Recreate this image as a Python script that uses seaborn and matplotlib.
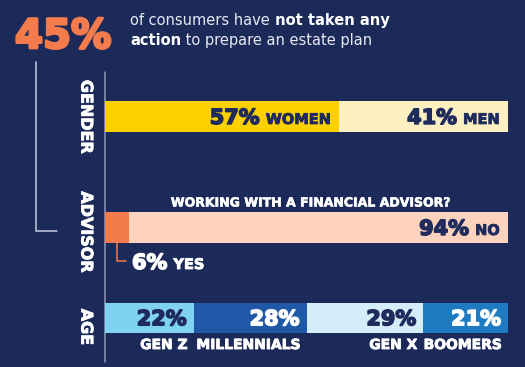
import matplotlib
matplotlib.use("Agg")
import matplotlib.pyplot as plt
import matplotlib.transforms as mtransforms
import matplotlib.patheffects as pe
from matplotlib.lines import Line2D
import seaborn as sns
import numpy as np

# === Data ===
headline_pct = "45%"
gender_labels = ["WOMEN", "MEN"]
gender_values = [57, 41]
advisor_labels = ["YES", "NO"]
advisor_values = [6, 94]
age_labels = ["GEN Z", "MILLENNIALS", "GEN X", "BOOMERS"]
age_values = [22, 28, 29, 21]

# === Style ===
bg = "#1c2a5a"
navy = "#1e2b5c"
light = "#e6e9f2"
orange = "#f47c4c"
gender_colors = ["#fdd100", "#fff0c2"]
advisor_colors = [orange, "#fdd3bd"]
age_colors = ["#7fd2f0", "#1f58a6", "#d3eef9", "#1f7bc1"]
age_text = [navy, "white", navy, "white"]

sns.set_theme(style="white")
plt.rcParams["font.family"] = ["DejaVu Sans"]

W, H = 525, 367
fig = plt.figure(figsize=(W / 100, H / 100), dpi=100, facecolor=bg)
# pixel coords measured from the top-left corner
px = mtransforms.Affine2D().scale(1 / W, -1 / H).translate(0, 1) + fig.transFigure


def heavy(color, lw=1.0):
    # fake a black weight by stroking the bold glyphs
    return [pe.withStroke(linewidth=lw, foreground=color)]


def px_axes(x0, y0, x1, y1):
    ax = fig.add_axes([x0 / W, 1 - y1 / H, (x1 - x0) / W, (y1 - y0) / H])
    ax.set_facecolor("none")
    return ax


def stacked_bar(ax, values, colors):
    cum = np.cumsum(values)
    # draw cumulative totals back to front so each segment shows
    for i in reversed(range(len(values))):
        sns.barplot(x=[cum[i]], y=["row"], orient="h", color=colors[i],
                    width=1, saturation=1, linewidth=0, ax=ax)
    ax.set_xlim(0, cum[-1])
    ax.set_ylim(0.5, -0.5)
    ax.axis("off")
    return cum


def seg_label(ax, x_end, pct, word, color, y_base=0.24, pad=-8):
    trans = mtransforms.offset_copy(ax.transData, fig=fig, x=pad, y=0, units="dots")
    w = ax.text(x_end, y_base, word, transform=trans, ha="right", va="baseline",
                color=color, fontsize=10.5, fontweight="bold",
                path_effects=heavy(color, 0.6))
    if pct:
        ax.annotate(pct, xy=(0, y_base), xycoords=(w, trans), xytext=(-6, 0),
                    textcoords="offset pixels", ha="right", va="baseline",
                    color=color, fontsize=15, fontweight="bold",
                    path_effects=heavy(color, 1.1))
    return w


# === Headline ===
fig.text(15, 48, headline_pct, transform=px, color=orange, fontsize=29,
         fontweight="bold", va="baseline", path_effects=heavy(orange, 2))
t1 = fig.text(130, 25, "of consumers have", transform=px, color=light,
              fontsize=10.5, va="baseline")
fig.add_artist(plt.Annotation(" not taken any", xy=(1, 0), xycoords=t1,
                              color="white", fontsize=10.5, fontweight="bold",
                              va="bottom", ha="left"))
t2 = fig.text(130, 45, "action", transform=px, color="white", fontsize=10.5,
              fontweight="bold", va="baseline")
fig.add_artist(plt.Annotation(" to prepare an estate plan", xy=(1, 0), xycoords=t2,
                              color=light, fontsize=10.5, va="bottom", ha="left"))

# === Guide lines ===
fig.add_artist(Line2D([36, 36, 57], [62, 231, 231], transform=px,
                      color="#c5cbe0", lw=1.1))
fig.add_artist(Line2D([105, 105], [72, 362], transform=px,
                      color="#8f98b6", lw=1.1, zorder=0))

# === Row labels ===
for label, yc in [("GENDER", 117), ("ADVISOR", 232), ("AGE", 327)]:
    fig.text(86, yc, label, transform=px, rotation=270, color="white",
             fontsize=11.5, fontweight="bold", ha="center", va="center",
             path_effects=heavy("white", 0.6))

# === Gender ===
ax_g = px_axes(105, 101, 508, 132)
cum_g = stacked_bar(ax_g, gender_values, gender_colors)
for i, lab in enumerate(gender_labels):
    seg_label(ax_g, cum_g[i], f"{gender_values[i]}%", lab, navy)

# === Advisor ===
ax_a = px_axes(105, 212, 508, 243)
cum_a = stacked_bar(ax_a, advisor_values, advisor_colors)
seg_label(ax_a, cum_a[1], f"{advisor_values[1]}%", advisor_labels[1], navy)
fig.text(310, 203, "WORKING WITH A FINANCIAL ADVISOR?", transform=px,
         color="white", fontsize=9, fontweight="bold", ha="center", va="center",
         path_effects=heavy("white", 0.4))
fig.add_artist(Line2D([117, 117, 126], [243, 261, 261], transform=px,
                      color=orange, lw=1.1))
t6 = fig.text(132, 269, f"{advisor_values[0]}%", transform=px, color="white",
              fontsize=15, fontweight="bold", va="baseline",
              path_effects=heavy("white", 1.1))
fig.add_artist(plt.Annotation(advisor_labels[0], xy=(1, 0), xycoords=(t6, px),
                              xytext=(6, 269), textcoords=("offset pixels", px),
                              color="white", fontsize=10.5, fontweight="bold",
                              va="baseline", ha="left",
                              path_effects=heavy("white", 0.6)))

# === Age ===
ax_y = px_axes(105, 303, 508, 333)
cum_y = stacked_bar(ax_y, age_values, age_colors)
for i, lab in enumerate(age_labels):
    t = seg_label(ax_y, cum_y[i], "", f"{age_values[i]}%", age_text[i], pad=-7)
    t.set_fontsize(15)
    t.set_path_effects(heavy(age_text[i], 1.1))
    ax_y.text(cum_y[i], 0.9, lab,
              transform=mtransforms.offset_copy(ax_y.transData, fig=fig, x=-6, y=0, units="dots"),
              ha="right", va="center", color="white", fontsize=10, fontweight="bold",
              path_effects=heavy("white", 0.6))

fig.savefig("out.png", dpi=100, facecolor=bg)
